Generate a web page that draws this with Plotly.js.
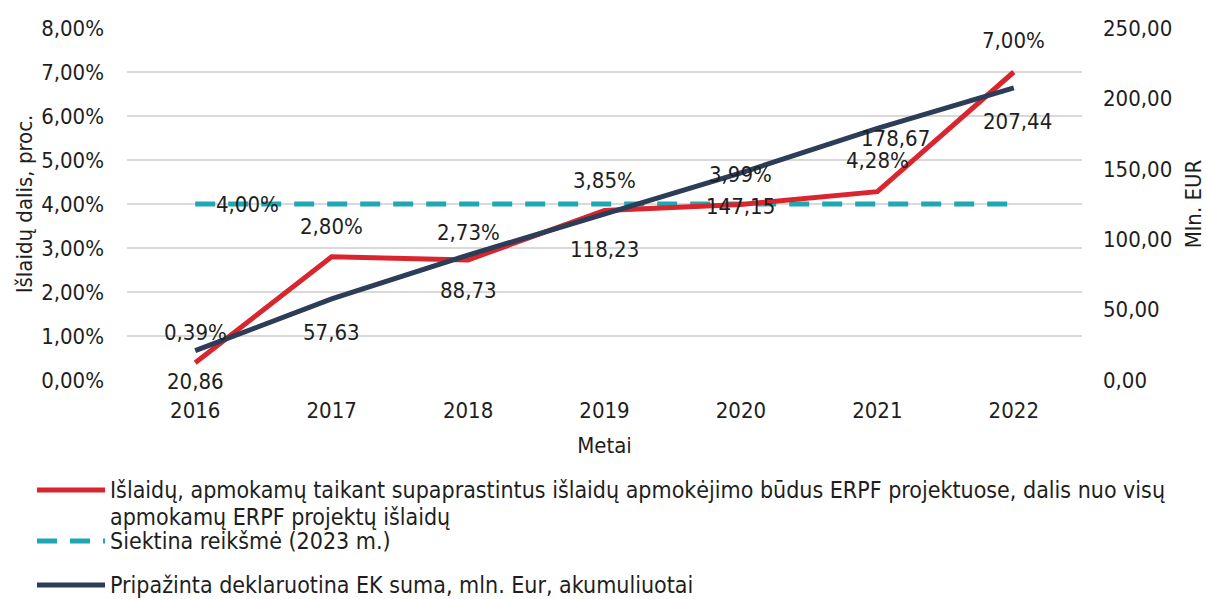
<!DOCTYPE html>
<html>
<head>
<meta charset="utf-8">
<script src="https://cdn.plot.ly/plotly-3.0.1.min.js"></script>
<style>html,body{margin:0;padding:0;background:#fff;}#chart{width:1206px;height:599px;}</style>
</head>
<body>
<div id="chart"></div>
<script>
// ---- data ----
var years = ['2016', '2017', '2018', '2019', '2020', '2021', '2022'];
var shareSCO = [0.39, 2.80, 2.73, 3.85, 3.99, 4.28, 7.00];      // %
var target2023 = [4.00, 4.00, 4.00, 4.00, 4.00, 4.00, 4.00];    // %
var declaredEK = [20.86, 57.63, 88.73, 118.23, 147.15, 178.67, 207.44]; // mln. EUR
var leftTicks = [0, 1, 2, 3, 4, 5, 6, 7, 8];
var rightTicks = [0, 50, 100, 150, 200, 250];

var nameRed = ['Išlaidų, apmokamų taikant supaprastintus išlaidų apmokėjimo būdus ERPF projektuose, dalis nuo visų',
               'apmokamų ERPF projektų išlaidų'];
var nameCyan = ['Siektina reikšmė (2023 m.)'];
var nameNavy = ['Pripažinta deklaruotina EK suma, mln. Eur, akumuliuotai'];

// ---- style ----
var RED = '#d9262e', CYAN = '#1fa8b4', NAVY = '#2d3d57', GRID = '#d9d9d9', TXT = '#1e1e1e';
var FONT = '"DejaVu Sans Condensed", "DejaVu Sans", sans-serif';
var FS = 22, FSL = 23;

function fmt(v) { return v.toFixed(2).replace('.', ','); }

// label placement (pixel shifts)
var redShift = [[0, 30], [0, 30], [0, 27], [0, 30], [0, 30], [0, 31], [0, 32]];
var navyShift = [[0, -31], [0, -34], [0, -35], [0, -36], [0, -34], [18, -10], [4, -34]];

var traces = [
  {x: years, y: target2023, type: 'scatter', mode: 'lines', yaxis: 'y',
   line: {color: CYAN, width: 5, dash: '20px,13px'}, showlegend: false, hoverinfo: 'skip'},
  {x: years, y: shareSCO, type: 'scatter', mode: 'lines', yaxis: 'y',
   line: {color: RED, width: 5}, showlegend: false, hoverinfo: 'skip'},
  {x: years, y: declaredEK, type: 'scatter', mode: 'lines', yaxis: 'y2',
   line: {color: NAVY, width: 5}, showlegend: false, hoverinfo: 'skip'}
];

var ann = [];
years.forEach(function (yr, i) {
  ann.push({x: i, y: shareSCO[i], xref: 'x', yref: 'y', text: fmt(shareSCO[i]) + '%', showarrow: false,
    xshift: redShift[i][0], yshift: redShift[i][1], font: {family: FONT, size: FS, color: TXT}});
  ann.push({x: i, y: declaredEK[i], xref: 'x', yref: 'y2', text: fmt(declaredEK[i]), showarrow: false,
    xshift: navyShift[i][0], yshift: navyShift[i][1], font: {family: FONT, size: FS, color: TXT}});
});
ann.push({x: 0, y: target2023[0], xref: 'x', yref: 'y', text: fmt(target2023[0]) + '%', showarrow: false,
  xshift: 52, yshift: 0, font: {family: FONT, size: FS, color: TXT}});

// manual legend (paper coords: plot area x 127..1082, y 28..380)
function px(x) { return (x - 127) / 955; }
function py(y) { return (380 - y) / 352; }
var legendItems = [
  {lines: nameRed, color: RED, dash: 'solid', y: 490},
  {lines: nameCyan, color: CYAN, dash: '20px,13px', y: 541},
  {lines: nameNavy, color: NAVY, dash: 'solid', y: 585}
];
var shapes = [];
legendItems.forEach(function (it) {
  shapes.push({type: 'line', xref: 'paper', yref: 'paper', x0: px(37), x1: px(105), y0: py(it.y), y1: py(it.y),
    line: {color: it.color, width: 5, dash: it.dash}});
  it.lines.forEach(function (t, k) {
    ann.push({xref: 'paper', yref: 'paper', x: px(108), y: py(it.y + 27 * k), xanchor: 'left', yanchor: 'middle',
      align: 'left', text: t, showarrow: false, font: {family: FONT, size: FSL, color: TXT}});
  });
});

var layout = {
  width: 1206, height: 599,
  margin: {l: 127, r: 124, t: 28, b: 219},
  paper_bgcolor: '#fff', plot_bgcolor: '#fff',
  separators: ',.',
  font: {family: FONT, size: FS, color: TXT},
  showlegend: false,
  xaxis: {type: 'category', range: [-0.5, 6.5], showgrid: false, zeroline: false,
    showline: false, ticks: '', ticklabelstandoff: 15,
    tickfont: {family: FONT, size: FS, color: TXT},
    title: {text: 'Metai', font: {family: FONT, size: FS, color: TXT}, standoff: 15}},
  yaxis: {range: [0, 8], tickvals: leftTicks, ticktext: leftTicks.map(function (v) { return fmt(v) + '%'; }),
    showgrid: true, gridcolor: GRID, gridwidth: 2, zeroline: false, showline: false, ticks: '',
    ticklabelstandoff: 22, tickfont: {family: FONT, size: FS, color: TXT},
    title: {text: 'Išlaidų dalis, proc.', font: {family: FONT, size: FS, color: TXT}, standoff: 2}},
  yaxis2: {range: [0, 250], overlaying: 'y', side: 'right', tickvals: rightTicks,
    ticktext: rightTicks.map(fmt), showgrid: false, zeroline: false, showline: false, ticks: '',
    ticklabelstandoff: 20, tickfont: {family: FONT, size: FS, color: TXT},
    title: {text: 'Mln. EUR', font: {family: FONT, size: FS, color: TXT}, standoff: 14}},
  annotations: ann,
  shapes: shapes
};

Plotly.newPlot('chart', traces, layout, {displayModeBar: false, staticPlot: true});
</script>
</body>
</html>
